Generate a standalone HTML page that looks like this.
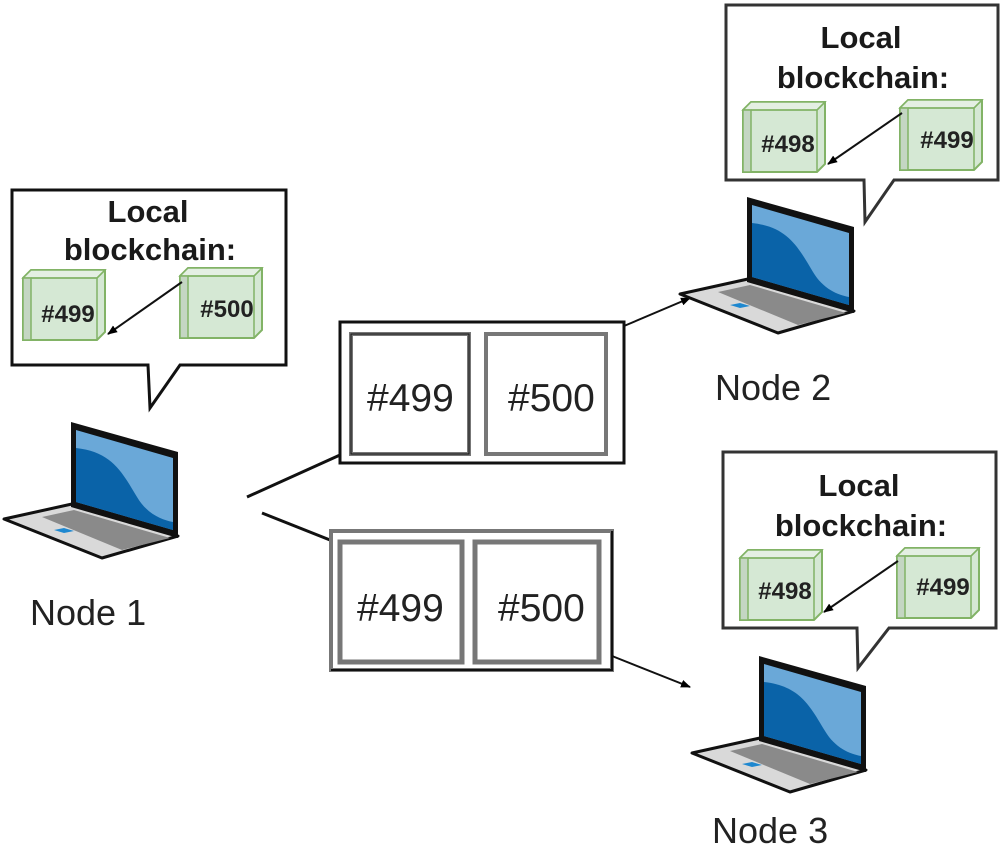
<!DOCTYPE html>
<html><head><meta charset="utf-8"><style>
html,body{margin:0;padding:0;background:#fff;}
svg{display:block;}
text{font-family:"Liberation Sans",Arial,sans-serif;}
</style></head><body>
<svg width="1005" height="849" viewBox="0 0 1005 849" xmlns="http://www.w3.org/2000/svg">
<defs>
<marker id="ah" markerWidth="10" markerHeight="10" refX="9" refY="5" orient="auto" markerUnits="userSpaceOnUse">
<path d="M0,1 L10,5 L0,9 Z" fill="#000"/>
</marker>
<g id="laptop">
<path d="M2,97 L70,82 L176,114 L100,136 Z" fill="#d9d9d9" stroke="#111" stroke-width="3" stroke-linejoin="round"/>
<path d="M40,95 L72,88 L168,116 L120,128 Z" fill="#8a8a8a"/>
<path d="M52,108 L62,106 L72,109 L62,111 Z" fill="#1e88d0"/>
<path d="M69,0 L176,30 L176,116 L69,85 Z" fill="#111"/>
<path d="M74,8 L171,36 L171,108 L74,80 Z" fill="#6aa8d8"/>
<path d="M74,26 C110,30 120,50 135,75 C145,92 160,98 171,100 L171,108 L74,80 Z" fill="#0a63a8"/>
</g>
<g id="cube">
<path d="M0,8 L8,0 L82,0 L82,62 L74,70 L0,70 Z" fill="#d5e8d4" stroke="#82b366" stroke-width="2"/>
<path d="M0,8 L8,0 L82,0 L74,8 Z" fill="#e4efe3" stroke="#82b366" stroke-width="1.5"/>
<path d="M0,8 L8,8 L8,70 L0,70 Z" fill="#c4d6c3" stroke="#82b366" stroke-width="1.5"/>
<path d="M74,8 L82,0 M74,8 L74,70" stroke="#82b366" stroke-width="1.5"/>
<path d="M8,8 L74,8" stroke="#82b366" stroke-width="1.5"/>
</g>
</defs>

<!-- Callout Node 1 -->
<path d="M12,190 L286,190 L286,365 L180,365 L150,408 L148,365 L12,365 Z" fill="#fff" stroke="#111" stroke-width="3"/>
<text x="148" y="222" font-size="31" font-weight="bold" text-anchor="middle" fill="#1a1a1a">Local</text>
<text x="150" y="260" font-size="31" font-weight="bold" text-anchor="middle" fill="#1a1a1a">blockchain:</text>
<use href="#cube" x="23" y="270"/>
<use href="#cube" x="180" y="268"/>
<text x="68" y="322" font-size="24" font-weight="bold" text-anchor="middle" fill="#222">#499</text>
<text x="227" y="317" font-size="24" font-weight="bold" text-anchor="middle" fill="#222">#500</text>
<line x1="182" y1="282" x2="108" y2="334" stroke="#111" stroke-width="2" marker-end="url(#ah)"/>

<!-- Laptop 1 -->
<use href="#laptop" x="2" y="422"/>
<text x="30" y="625" font-size="36" fill="#222">Node 1</text>

<!-- lines from node 1 -->
<line x1="247" y1="497" x2="340" y2="455" stroke="#111" stroke-width="3"/>
<line x1="262" y1="513" x2="330" y2="540" stroke="#111" stroke-width="3"/>

<!-- Top packet -->
<rect x="340" y="322" width="284" height="141" fill="#fff" stroke="#111" stroke-width="3"/>
<rect x="351" y="334" width="118" height="120" fill="#fff" stroke="#777" stroke-width="4"/>
<rect x="351" y="334" width="118" height="120" fill="none" stroke="#111" stroke-width="1"/>
<rect x="486" y="334" width="120" height="120" fill="#fff" stroke="#777" stroke-width="4"/>
<text x="367" y="411" font-size="39" fill="#222">#499</text>
<text x="508" y="411" font-size="39" fill="#222">#500</text>
<line x1="624" y1="326" x2="690" y2="298" stroke="#111" stroke-width="2" marker-end="url(#ah)"/>

<!-- Bottom packet -->
<rect x="331" y="531" width="281" height="139" fill="#fff" stroke="#777" stroke-width="4"/>
<path d="M612,531 L612,670 L331,670" fill="none" stroke="#111" stroke-width="2"/>
<rect x="340" y="542" width="122" height="120" fill="#fff" stroke="#777" stroke-width="5"/>
<rect x="475" y="542" width="124" height="120" fill="#fff" stroke="#777" stroke-width="5"/>
<text x="357" y="621" font-size="39" fill="#222">#499</text>
<text x="498" y="621" font-size="39" fill="#222">#500</text>
<line x1="612" y1="656" x2="690" y2="687" stroke="#111" stroke-width="2" marker-end="url(#ah)"/>

<!-- Callout Node 2 -->
<path d="M726,5 L998,5 L998,180 L894,180 L865,222 L864,180 L726,180 Z" fill="#fff" stroke="#333" stroke-width="3"/>
<text x="861" y="48" font-size="31" font-weight="bold" text-anchor="middle" fill="#1a1a1a">Local</text>
<text x="863" y="88" font-size="31" font-weight="bold" text-anchor="middle" fill="#1a1a1a">blockchain:</text>
<use href="#cube" x="743" y="102"/>
<use href="#cube" x="900" y="100"/>
<text x="788" y="152" font-size="24" font-weight="bold" text-anchor="middle" fill="#222">#498</text>
<text x="947" y="148" font-size="24" font-weight="bold" text-anchor="middle" fill="#222">#499</text>
<line x1="902" y1="113" x2="828" y2="164" stroke="#111" stroke-width="2" marker-end="url(#ah)"/>
<use href="#laptop" x="678" y="197"/>
<text x="715" y="400" font-size="36" fill="#222">Node 2</text>

<!-- Callout Node 3 -->
<path d="M723,452 L996,452 L996,628 L889,628 L858,668 L857,628 L723,628 Z" fill="#fff" stroke="#333" stroke-width="3"/>
<text x="859" y="496" font-size="31" font-weight="bold" text-anchor="middle" fill="#1a1a1a">Local</text>
<text x="861" y="536" font-size="31" font-weight="bold" text-anchor="middle" fill="#1a1a1a">blockchain:</text>
<use href="#cube" x="740" y="550"/>
<use href="#cube" x="897" y="548"/>
<text x="785" y="599" font-size="24" font-weight="bold" text-anchor="middle" fill="#222">#498</text>
<text x="943" y="595" font-size="24" font-weight="bold" text-anchor="middle" fill="#222">#499</text>
<line x1="898" y1="561" x2="824" y2="612" stroke="#111" stroke-width="2" marker-end="url(#ah)"/>
<use href="#laptop" x="690" y="656"/>
<text x="712" y="843" font-size="36" fill="#222">Node 3</text>
</svg>
</body></html>
